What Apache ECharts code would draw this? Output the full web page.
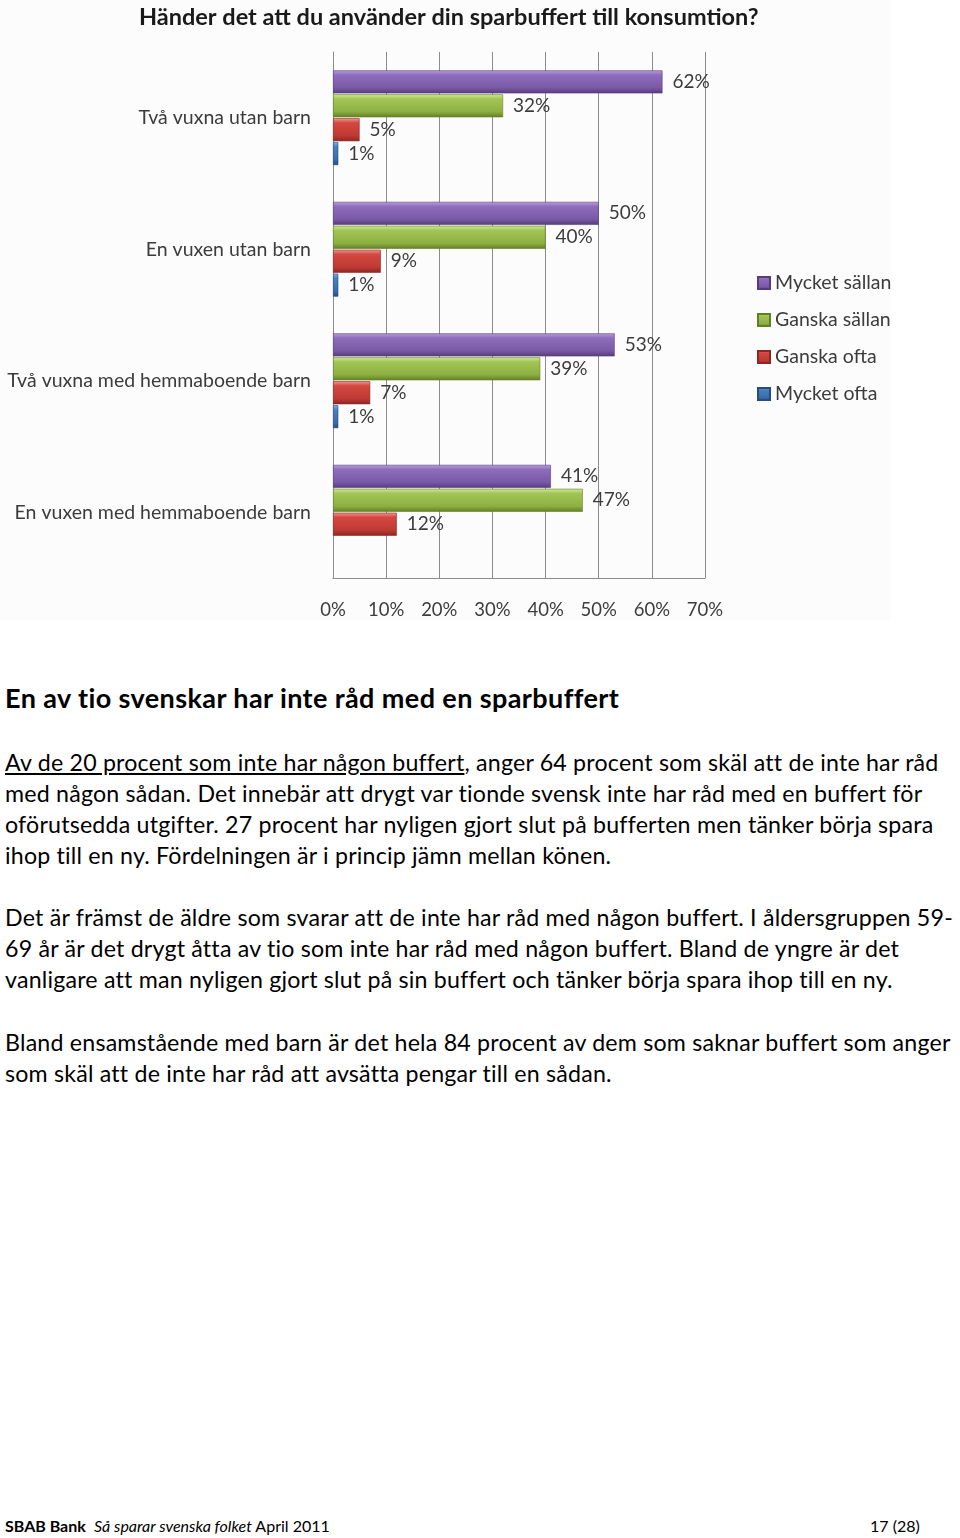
<!DOCTYPE html>
<html><head><meta charset="utf-8">
<script src="https://cdn.jsdelivr.net/npm/echarts@6/dist/echarts.min.js"></script>
<style>
html,body{margin:0;padding:0;background:#fff;}
body{width:960px;height:1538px;position:relative;font-family:Lato,"Open Sans",sans-serif;color:#000;}
#bg{position:absolute;left:0;top:0;width:890px;height:620px;background:#fcfcfc;}
#chart{position:absolute;left:0;top:0;width:960px;height:620px;}
.blk{position:absolute;left:5px;white-space:nowrap;}
.h{top:680px;font-size:27px;letter-spacing:0.4px;font-weight:bold;line-height:36px;}
.p{font-size:23.2px;letter-spacing:0.2px;line-height:31px;}
.p1{top:747px}.p2{top:902px}.p3{top:1027px}
.ft{position:absolute;top:1516px;font-size:16px;line-height:20px;white-space:nowrap;}
</style></head>
<body>
<div id="bg"></div>
<div id="chart"></div>
<div class="blk h">En av tio svenskar har inte råd med en sparbuffert</div>
<div class="blk p p1"><u>Av de 20 procent som inte har någon buffert</u>, anger 64 procent som skäl att de inte har råd<br>med någon sådan. Det innebär att drygt var tionde svensk inte har råd med en buffert för<br>oförutsedda utgifter. 27 procent har nyligen gjort slut på bufferten men tänker börja spara<br>ihop till en ny. Fördelningen är i princip jämn mellan könen.</div>
<div class="blk p p2">Det är främst de äldre som svarar att de inte har råd med någon buffert. I åldersgruppen 59-<br>69 år är det drygt åtta av tio som inte har råd med någon buffert. Bland de yngre är det<br>vanligare att man nyligen gjort slut på sin buffert och tänker börja spara ihop till en ny.</div>
<div class="blk p p3">Bland ensamstående med barn är det hela 84 procent av dem som saknar buffert som anger<br>som skäl att de inte har råd att avsätta pengar till en sådan.</div>
<div class="ft" style="left:5px"><b>SBAB Bank</b>&nbsp; <i>Så sparar svenska folket</i> April 2011</div>
<div class="ft" style="left:870px">17 (28)</div>
<script>
const chartTitle = "Händer det att du använder din sparbuffert till konsumtion?";
const categories = ["Två vuxna utan barn", "En vuxen utan barn", "Två vuxna med hemmaboende barn", "En vuxen med hemmaboende barn"];
const seriesNames = ["Mycket sällan", "Ganska sällan", "Ganska ofta", "Mycket ofta"];
const mycketSallan = [62, 50, 53, 41];
const ganskaSallan = [32, 40, 39, 47];
const ganskaOfta = [5, 9, 7, 12];
const mycketOfta = [1, 1, 1, null];
const xTicks = [0, 10, 20, 30, 40, 50, 60, 70];

const seriesData = [mycketSallan, ganskaSallan, ganskaOfta, mycketOfta];
const palettes = [
  ['#b9a0dc', '#8e6dbd', '#7a59a6', '#563c7c'],
  ['#d2e89a', '#a2c655', '#8eb043', '#637f25'],
  ['#ef9a96', '#d4483f', '#bf3a34', '#8c2622'],
  ['#86b2e2', '#4a80c0', '#3a6ca8', '#254e80']
];
function grad(p){
  return new echarts.graphic.LinearGradient(0,0,0,1,[
    {offset:0,color:p[0]},{offset:0.2,color:p[1]},{offset:0.75,color:p[2]},{offset:1,color:p[3]}]);
}
const txt = '#3c3c3c';
const chart = echarts.init(document.getElementById('chart'), null, {renderer:'canvas'});
chart.setOption({
  animation:false,
  title:{text:chartTitle,left:134,top:0,textStyle:{fontFamily:'Lato',fontWeight:'bold',fontSize:23.5,color:'#1a1a1a'}},
  legend:{orient:'vertical',left:752,top:268,itemWidth:12,itemHeight:12,itemGap:17,icon:'rect',
    data:seriesNames,textStyle:{fontFamily:'Lato',fontSize:19.5,color:txt}},
  grid:{left:333,right:255,top:52,bottom:42,containLabel:false},
  xAxis:{type:'value',min:xTicks[0],max:xTicks[xTicks.length-1],interval:10,
    axisLine:{show:true,lineStyle:{color:'#8c8c8c'}},axisTick:{show:false},
    splitLine:{show:true,lineStyle:{color:'#8c8c8c',width:1}},
    axisLabel:{formatter:'{value}%',margin:23,fontFamily:'Lato',fontSize:18.5,color:txt}},
  yAxis:{type:'category',data:categories,inverse:true,
    axisLine:{show:true,lineStyle:{color:'#8c8c8c'}},axisTick:{show:false},
    axisLabel:{margin:22,fontFamily:'Lato',fontSize:19.5,color:txt}},
  series:seriesNames.map((n,i)=>({
    name:n,type:'bar',data:seriesData[i],barWidth:23,barGap:'4%',
    itemStyle:{color:grad(palettes[i]),borderColor:palettes[i][3],borderWidth:0.6},
    label:{show:true,position:'right',distance:10,formatter:'{c}%',fontFamily:'Lato',fontSize:19,color:txt}
  }))
});
</script>
</body></html>
